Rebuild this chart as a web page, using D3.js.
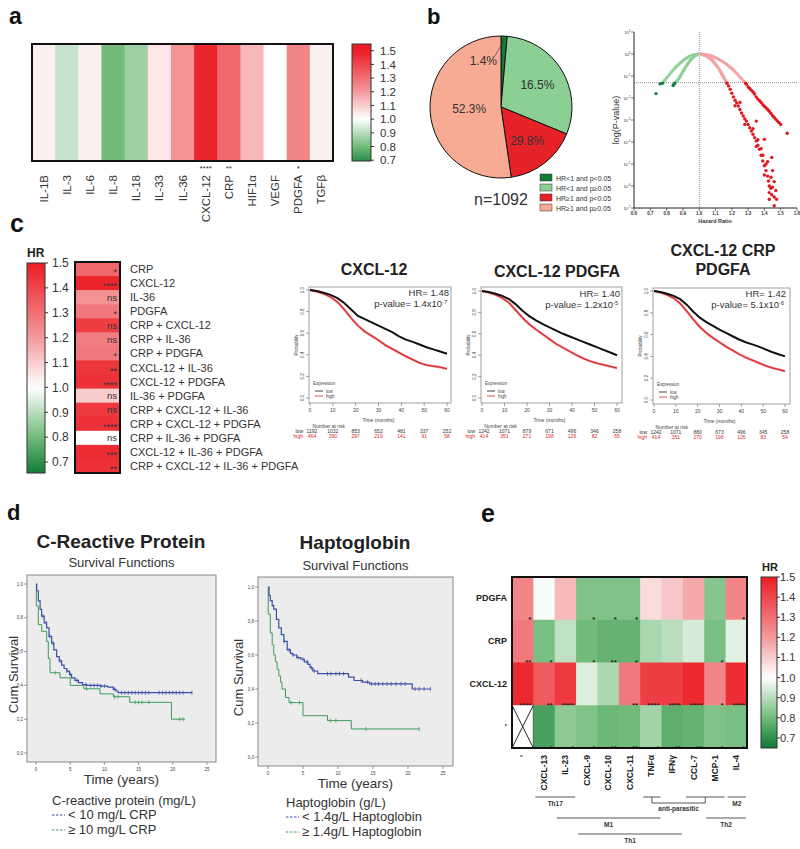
<!DOCTYPE html>
<html><head><meta charset="utf-8">
<script src="https://cdn.jsdelivr.net/npm/d3@7"></script>
<style>body{margin:0;background:#fff}svg{display:block}text{font-family:"Liberation Sans",Arial,Helvetica,sans-serif}</style>
</head><body><svg id="fig" width="800" height="849"></svg>
<script>
// ================= DATA =================
// Panel a
const aMarkers = ["IL-1B","IL-3","IL-6","IL-8","IL-18","IL-33","IL-36","CXCL-12","CRP","HIF1α","VEGF","PDGFA","TGFβ"];
const aHR = [1.03,0.92,1.03,0.80,0.86,1.05,1.22,1.48,1.32,1.14,1.00,1.25,1.03];
const aSig = ["","","","","","","","****","**","","","*",""];
const hrTicks = [1.5,1.4,1.3,1.2,1.1,1.0,0.9,0.8,0.7];

// Panel b – pie
const pieLabels = ["1.4%","16.5%","29.8%","52.3%"];
const pieShares = [1.4,29.8,16.5,52.3];
const pieGroups = ["HR<1 and p<0.05","HR<1 and p≥0.05","HR≥1 and p<0.05","HR≥1 and p≥0.05"];
const pieN = "n=1092";
// Panel b – volcano: [hazard ratio, log10(p)]
const volcGreenNS = [[0.99,-0.005],[0.98,-0.015],[0.97,-0.03],[0.96,-0.05],[0.95,-0.08],[0.94,-0.11],[0.93,-0.15],[0.92,-0.2],[0.91,-0.25],[0.90,-0.31],[0.89,-0.37],[0.88,-0.43],[0.87,-0.5],[0.86,-0.57],[0.85,-0.65],[0.84,-0.73],[0.83,-0.82],[0.82,-0.91],[0.81,-1.0],[0.80,-1.09],[0.79,-1.18],[0.785,-1.24],
 [0.99,-0.01],[0.985,-0.03],[0.98,-0.05],[0.975,-0.075],[0.97,-0.1],[0.965,-0.135],[0.96,-0.17],[0.955,-0.21],[0.95,-0.25],[0.945,-0.295],[0.94,-0.34],[0.935,-0.39],[0.93,-0.44],[0.925,-0.495],[0.92,-0.55],[0.915,-0.61],[0.91,-0.67],[0.905,-0.735],[0.90,-0.8],[0.895,-0.865],[0.89,-0.93],[0.885,-0.995],[0.88,-1.06],[0.875,-1.115],[0.87,-1.17],[0.865,-1.21],[0.86,-1.25]];
const volcGreenSig = [[0.775,-1.33],[0.76,-1.36],[0.85,-1.33],[0.845,-1.38],[0.84,-1.43],[0.735,-1.8]];
const volcRedNS = [[1.01,-0.003],[1.02,-0.008],[1.03,-0.015],[1.04,-0.026],[1.05,-0.04],[1.06,-0.058],[1.07,-0.08],[1.08,-0.105],[1.09,-0.134],[1.10,-0.166],[1.11,-0.2],[1.12,-0.24],[1.13,-0.28],[1.14,-0.325],[1.15,-0.37],[1.16,-0.42],[1.17,-0.48],[1.18,-0.54],[1.19,-0.6],[1.20,-0.66],[1.21,-0.73],[1.22,-0.8],[1.23,-0.88],[1.24,-0.96],[1.25,-1.04],[1.26,-1.12],[1.27,-1.21],[1.275,-1.26],
 [1.01,-0.005],[1.015,-0.012],[1.02,-0.02],[1.025,-0.03],[1.03,-0.04],[1.035,-0.055],[1.04,-0.07],[1.045,-0.09],[1.05,-0.11],[1.055,-0.135],[1.06,-0.16],[1.065,-0.19],[1.07,-0.22],[1.075,-0.255],[1.08,-0.29],[1.085,-0.33],[1.09,-0.37],[1.095,-0.415],[1.10,-0.46],[1.105,-0.51],[1.11,-0.56],[1.115,-0.615],[1.12,-0.67],[1.125,-0.73],[1.13,-0.79],[1.135,-0.855],[1.14,-0.92],[1.145,-0.99],[1.15,-1.06],[1.155,-1.13],[1.16,-1.2],[1.165,-1.26]];
const volcRedSig = [[1.285,-1.33],[1.29,-1.38],[1.30,-1.5],[1.31,-1.57],[1.32,-1.65],[1.33,-1.73],[1.34,-1.82],[1.35,-1.95],[1.36,-2.05],[1.37,-2.12],[1.38,-2.2],[1.39,-2.3],[1.40,-2.38],[1.41,-2.45],[1.42,-2.52],[1.43,-2.6],[1.44,-2.7],[1.45,-2.8],[1.46,-2.88],[1.47,-2.97],[1.48,-3.05],[1.49,-3.12],[1.50,-3.2],[1.54,-3.6],[1.35,-3.05],[1.40,-3.88],[1.445,-4.7],
 [1.17,-1.33],[1.18,-1.45],[1.19,-1.6],[1.20,-1.78],[1.21,-1.95],[1.22,-2.1],[1.23,-2.22],[1.24,-2.36],[1.25,-2.52],[1.26,-2.68],[1.27,-2.82],[1.28,-2.95],[1.29,-3.05],[1.30,-3.2],[1.31,-3.35],[1.32,-3.5],[1.33,-3.65],[1.34,-3.8],[1.35,-3.95],[1.36,-4.15],[1.37,-4.33],[1.38,-4.6],[1.39,-4.86],[1.40,-5.08],[1.41,-5.3],[1.42,-5.55],[1.425,-5.77],[1.43,-6.0],[1.44,-6.1],[1.45,-6.05],[1.43,-6.3],[1.445,-6.4],[1.46,-6.5],[1.475,-6.6],[1.46,-6.9],
 [1.22,-2.35],[1.25,-2.2],[1.28,-3.2],[1.33,-3.4],[1.36,-3.9],[1.38,-4.3],[1.41,-5.0],[1.42,-4.9],[1.44,-5.6],[1.45,-5.3],[1.40,-5.5],[1.47,-6.2],[1.43,-6.6],[1.46,-5.8],[1.35,-4.2],[1.39,-4.6]];
const volcXTicks = [0.6,0.7,0.8,0.9,1.0,1.1,1.2,1.3,1.4,1.5,1.6];
const volcYExp = [1,0,-1,-2,-3,-4,-5,-6,-7];

// Panel c – combination heatmap
const cCombos = ["CRP","CXCL-12","IL-36","PDGFA","CRP + CXCL-12","CRP + IL-36","CRP + PDGFA","CXCL-12 + IL-36","CXCL-12 + PDGFA","IL-36 + PDGFA","CRP + CXCL-12 + IL-36","CRP + CXCL-12 + PDGFA","CRP + IL-36 + PDGFA","CXCL-12 + IL-36 + PDGFA","CRP + CXCL-12 + IL-36 + PDGFA"];
const cHR = [1.32,1.48,1.22,1.28,1.42,1.27,1.28,1.44,1.45,1.10,1.43,1.45,1.00,1.46,1.45];
const cSig = ["*","****","ns","*","ns","ns","*","**","****","ns","ns","****","ns","***","**"];
// Panel c – KM plots
const kmTitles = [["CXCL-12"],["CXCL-12 PDGFA"],["CXCL-12 CRP","PDGFA"]];
const kmHR = ["HR= 1.48","HR= 1.40","HR= 1.42"];
const kmPbase = ["1.4","1.2","5.1"];
const kmPexp = ["-7","-5","-6"];
const kmMonths = [0,3,6,9,12,15,18,21,24,27,30,33,36,39,42,45,48,51,54,57,60];
const km1Low  = [1.00,0.99,0.975,0.955,0.925,0.88,0.82,0.76,0.73,0.70,0.67,0.64,0.61,0.57,0.54,0.52,0.495,0.47,0.45,0.43,0.41];
const km1High = [1.00,0.985,0.965,0.935,0.89,0.82,0.74,0.67,0.615,0.575,0.535,0.49,0.455,0.42,0.385,0.355,0.325,0.305,0.295,0.285,0.27];
const km2Low  = [1.00,0.99,0.975,0.955,0.925,0.875,0.815,0.765,0.725,0.69,0.66,0.63,0.60,0.575,0.55,0.525,0.50,0.475,0.45,0.425,0.40];
const km2High = [1.00,0.985,0.965,0.935,0.89,0.82,0.75,0.69,0.64,0.595,0.55,0.505,0.47,0.435,0.40,0.37,0.345,0.325,0.31,0.295,0.28];
const km3Low  = [1.00,0.99,0.975,0.955,0.925,0.875,0.81,0.755,0.715,0.68,0.645,0.615,0.585,0.555,0.53,0.51,0.49,0.465,0.44,0.42,0.40];
const km3High = [1.00,0.985,0.965,0.935,0.885,0.815,0.74,0.67,0.615,0.57,0.53,0.49,0.455,0.42,0.39,0.365,0.34,0.315,0.295,0.28,0.265];
const riskTimes = [0,10,20,30,40,50,60];
const risk1Low = [1192,1032,853,652,481,337,252], risk1High = [464,390,297,219,141,91,58];
const risk2Low = [1242,1071,879,671,496,346,258], risk2High = [414,351,271,198,126,82,55];
const risk3Low = [1242,1071,880,673,496,345,258], risk3High = [414,351,270,196,126,83,54];

// Panel d – survival (years, cumulative survival)
const crpLow  = [[0,1],[0.1,0.96],[0.34,0.90],[0.6,0.85],[0.83,0.81],[1.2,0.77],[1.56,0.74],[1.9,0.69],[2.29,0.65],[2.6,0.61],[3.02,0.57],[3.4,0.545],[3.75,0.52],[4.1,0.50],[4.5,0.485],[4.9,0.465],[5.2,0.445],[5.7,0.43],[6.2,0.416],[6.8,0.405],[7.4,0.40],[9.4,0.396],[10.5,0.39],[11.3,0.377],[11.7,0.367],[12.0,0.357],[22.8,0.357]];
const crpHigh = [[0,1],[0.05,0.87],[0.34,0.76],[0.83,0.72],[1.56,0.66],[1.8,0.56],[2.05,0.475],[3.5,0.445],[5.0,0.40],[7.0,0.38],[9.35,0.35],[11.3,0.333],[13.7,0.30],[19.8,0.20],[21.8,0.20]];
const crpLowCens  = [1.0,1.5,2.0,2.5,3.5,4.5,5.0,6.0,7.3,8,8.5,9,9.5,10,11.5,12.5,13,13.5,14,14.5,15,15.5,16,16.5,18,18.5,19,19.5,20,20.5,21,21.5,22.8];
const crpHighCens = [2.8,7.4,11.5,12.0,14.5,15,15.5,16.5,21.0,21.5];
const hapLow  = [[0,1],[0.15,0.95],[0.33,0.92],[0.6,0.89],[0.82,0.87],[1.2,0.81],[1.54,0.76],[1.9,0.72],[2.27,0.68],[2.75,0.63],[3.2,0.61],[3.5,0.60],[4.1,0.585],[4.7,0.575],[5.2,0.56],[5.7,0.545],[6.0,0.525],[6.4,0.506],[7.1,0.49],[11.5,0.47],[12.3,0.45],[13.5,0.44],[14.5,0.43],[20.6,0.40],[23.2,0.40]];
const hapHigh = [[0,1],[0.03,0.84],[0.33,0.73],[0.6,0.66],[0.82,0.60],[1.05,0.56],[1.3,0.516],[1.55,0.477],[1.8,0.44],[2.0,0.40],[2.5,0.35],[3.0,0.32],[5.0,0.243],[8.5,0.214],[11.9,0.165],[21.6,0.165]];
const hapLowCens  = [2.3,3.0,3.6,4.3,5.0,5.6,6.2,6.6,8.5,9.0,9.7,10.2,10.8,13.3,14.2,14.8,15.3,15.8,16.4,17,17.6,18.3,19,19.6,21,21.6,22.3,23.2];
const hapHighCens = [3.3,4.5,8.9,9.7,14.0,21.6];
const survYTicks = [0,0.2,0.4,0.6,0.8,1.0];
const survXTicks = [0,5,10,15,20,25];

// Panel e
const eCols = ["'","CXCL-13","IL-23","CXCL-9","CXCL-10","CXCL-11","TNFα","IFNγ","CCL-7","MCP-1","IL-4"];
const eRows = ["PDGFA","CRP","CXCL-12","'"];
const eHR = [
 [1.25,0.99,1.14,0.82,0.82,0.82,1.07,1.11,1.17,0.83,1.25],
 [1.28,0.81,0.91,0.80,0.78,0.78,0.88,0.90,0.94,0.81,0.96],
 [1.47,1.35,1.43,0.95,0.88,1.28,1.42,1.42,1.47,1.25,1.46],
 [null,0.74,0.84,0.82,0.79,0.80,0.87,0.77,0.78,0.82,0.81]];
const eSig = [
 ["*","","","*","*","*","","","","","*"],
 ["**","*","","*","**","*","","","","*",""],
 ["****","**","****","","","**","****","****","****","*","****"],
 ["","*","*","*","**","**","*","**","**","*","*"]];
const eGroups = [
 {name:"Th17",from:1,to:2,level:0},{name:"M2",from:10,to:10,level:0},
 {name:"M1",from:2,to:6,level:1},{name:"Th2",from:9,to:10,level:1},
 {name:"Th1",from:3,to:7,level:2}];
const eAnti = {name:"anti-parasitic",spans:[[6,6],[8,9]]};

// ================= DRAWING =================
const svg = d3.select("#fig");
const defs = svg.append("defs");
const hrColor = d3.scaleLinear().domain([0.65,0.8,1.0,1.2,1.5])
  .range(["#0d7a34","#72bb7b","#ffffff","#f39a9c","#ec1c24"]).clamp(true);

function txt(g,x,y,s,o={}){
  const t=g.append("text").attr("x",x).attr("y",y).text(s)
    .attr("font-size",o.size||10).attr("fill",o.fill||"#222")
    .attr("text-anchor",o.anchor||"start");
  if(o.bold) t.attr("font-weight","bold");
  if(o.rotate) t.attr("transform",`rotate(${o.rotate},${x},${y})`);
  return t;
}
let gid=0;
function colorbar(x,y,w,h,vTop,vBot,o){
  const id="grad"+(gid++);
  const lg=defs.append("linearGradient").attr("id",id).attr("x1",0).attr("y1",0).attr("x2",0).attr("y2",1);
  d3.range(0,41).forEach(i=>{const v=vTop-(vTop-vBot)*i/40;lg.append("stop").attr("offset",i/40).attr("stop-color",hrColor(v));});
  svg.append("rect").attr("x",x).attr("y",y).attr("width",w).attr("height",h)
    .attr("fill",`url(#${id})`).attr("stroke","#333").attr("stroke-width",1);
  const ys=d3.scaleLinear().domain([vBot,vTop]).range([y+h,y]);
  hrTicks.forEach(v=>{
    svg.append("line").attr("x1",x+w).attr("x2",x+w+3).attr("y1",ys(v)).attr("y2",ys(v)).attr("stroke","#333");
    txt(svg,o.labelX,ys(v)+o.size*0.36,v.toFixed(1),{size:o.size,fill:"#333"});
  });
}

// ---------- Panel letters ----------
txt(svg,9,24,"a",{size:23,bold:true,fill:"#111"});
txt(svg,427,24,"b",{size:22,bold:true,fill:"#111"});
txt(svg,10,232,"c",{size:25,bold:true,fill:"#111"});
txt(svg,7,520,"d",{size:22,bold:true,fill:"#111"});
txt(svg,481,522,"e",{size:25,bold:true,fill:"#111"});

// ---------- Panel a ----------
{
  const ax=d3.scaleBand().domain(aMarkers).range([32,333]);
  const bw=ax.bandwidth();
  svg.append("g").selectAll("rect").data(aMarkers).join("rect")
    .attr("x",d=>ax(d)).attr("y",44).attr("width",bw+0.6).attr("height",117)
    .attr("fill",(d,i)=>hrColor(aHR[i]));
  svg.append("rect").attr("x",32).attr("y",44).attr("width",301).attr("height",117)
    .attr("fill","none").attr("stroke","#111").attr("stroke-width",2);
  aMarkers.forEach((m,i)=>{
    const cx=ax(m)+bw/2;
    txt(svg,cx+4,175,m,{size:11.5,anchor:"end",rotate:-90,fill:"#333"});
    if(aSig[i]) txt(svg,cx,171,aSig[i],{size:8,anchor:"middle",fill:"#333"});
  });
  colorbar(352,44,19,117,1.549,0.694,{labelX:380,size:11.5});
}

// ---------- Panel b : pie ----------
{
  const cx=501,cy=107,r=71;
  const pieCols=["#137a3a","#8ccf95","#e62229","#f7ab93"];
  const arcs=d3.pie().sort(null).value(d=>d)(pieShares);
  const arc=d3.arc().innerRadius(0).outerRadius(r);
  const g=svg.append("g").attr("transform",`translate(${cx},${cy})`);
  g.selectAll("path").data(arcs).join("path").attr("d",arc)
    .attr("fill",(d,i)=>pieCols[i]).attr("stroke","#111").attr("stroke-width",1);
  const lr=[0,0.6,0.6,0.45];
  arcs.forEach((a,i)=>{
    if(i===0) return;
    const m=(a.startAngle+a.endAngle)/2;
    txt(g,Math.sin(m)*r*lr[i],-Math.cos(m)*r*lr[i]+4,pieLabels[i],{size:12,anchor:"middle",fill:"#333"});
  });
  const m0=(arcs[0].startAngle+arcs[0].endAngle)/2;
  g.append("line").attr("x1",-6).attr("y1",-51).attr("x2",Math.sin(m0)*(r-4)).attr("y2",-Math.cos(m0)*(r-4)).attr("stroke","#444").attr("stroke-width",0.7);
  txt(g,-4,-42,pieLabels[0],{size:12,anchor:"end",fill:"#333"});
  txt(svg,501,205,pieN,{size:16,anchor:"middle",fill:"#333"});
  pieGroups.forEach((s,i)=>{
    svg.append("rect").attr("x",540).attr("y",174+i*10).attr("width",12).attr("height",7)
      .attr("fill",pieCols[i]).attr("stroke","#333").attr("stroke-width",0.5);
    txt(svg,556,180.5+i*10,s,{size:7,fill:"#333"});
  });
}
// ---------- Panel b : volcano ----------
{
  const xs=d3.scaleLinear().domain([0.6,1.6]).range([634,797]);
  const ys=d3.scaleLog().domain([1e-7,10]).range([208,32]);
  const g=svg.append("g");
  g.append("line").attr("x1",xs(1)).attr("x2",xs(1)).attr("y1",32).attr("y2",208).attr("stroke","#777").attr("stroke-width",0.8).attr("stroke-dasharray","1,1");
  g.append("line").attr("x1",634).attr("x2",797).attr("y1",ys(0.05)).attr("y2",ys(0.05)).attr("stroke","#777").attr("stroke-width",0.8).attr("stroke-dasharray","1,1");
  const dots=(arr,col)=>g.append("g").selectAll("circle").data(arr).join("circle")
    .attr("cx",d=>xs(d[0])).attr("cy",d=>ys(Math.pow(10,d[1]))).attr("r",1.7).attr("fill",col);
  dots(volcGreenNS,"#8fd19a");
  dots(volcRedNS,"#f4a3a3");
  dots(volcGreenSig,"#1b7a3e");
  dots(volcRedSig,"#e0181f");
  g.append("line").attr("x1",634).attr("x2",634).attr("y1",32).attr("y2",208).attr("stroke","#222").attr("stroke-width",1);
  g.append("line").attr("x1",634).attr("x2",797).attr("y1",208).attr("y2",208).attr("stroke","#222").attr("stroke-width",1);
  volcYExp.forEach(e=>{
    const y=ys(Math.pow(10,e));
    g.append("line").attr("x1",631).attr("x2",634).attr("y1",y).attr("y2",y).attr("stroke","#222").attr("stroke-width",0.6);
    const t=txt(g,630.5,y+1.5,"10",{size:4,anchor:"end",fill:"#333"});
    t.append("tspan").attr("dy",-2).attr("font-size",3).text(e);
  });
  volcXTicks.forEach(v=>{
    g.append("line").attr("x1",xs(v)).attr("x2",xs(v)).attr("y1",208).attr("y2",211).attr("stroke","#222").attr("stroke-width",0.6);
    txt(g,xs(v),215,v.toFixed(1),{size:4.5,anchor:"middle",bold:true,fill:"#333"});
  });
  txt(g,715,223,"Hazard Ratio",{size:5.5,anchor:"middle",bold:true,fill:"#333"});
  txt(g,619,120,"log(P-value)",{size:9,anchor:"middle",rotate:-90,fill:"#333"});
}

// ---------- Panel c : heatmap ----------
{
  const ys=d3.scaleBand().domain(cCombos).range([262,473]);
  const bh=ys.bandwidth();
  svg.append("g").selectAll("rect").data(cCombos).join("rect")
    .attr("x",75).attr("y",d=>ys(d)).attr("width",45).attr("height",bh+0.6)
    .attr("fill",(d,i)=>hrColor(cHR[i]));
  svg.append("rect").attr("x",75).attr("y",262).attr("width",45).attr("height",211)
    .attr("fill","none").attr("stroke","#111").attr("stroke-width",2);
  cCombos.forEach((c,i)=>{
    const cy=ys(c)+bh/2;
    txt(svg,130,cy+4,c,{size:11,fill:"#333"});
    const s=cSig[i];
    txt(svg,117,s==="ns"?cy+3.5:cy+6,s,{size:s==="ns"?9.5:9,anchor:"end",fill:"#333"});
  });
  txt(svg,27,257,"HR",{size:12,bold:true,fill:"#222"});
  colorbar(27,263,18,210,1.5,0.656,{labelX:52,size:12});
}

// ---------- Panel c : KM plots ----------
const kmCfg=[
 {x0:309,x1:451,y0:287,y1:403,tx0:310,tx1:447,ty0:398,ty1:290,titleX:374,titleY:[275],hrX:449,hrY:296,low:km1Low,high:km1High,rl:risk1Low,rh:risk1High},
 {x0:481,x1:622,y0:287,y1:403,tx0:482,tx1:617,ty0:398,ty1:291,titleX:557,titleY:[277],hrX:620,hrY:297,low:km2Low,high:km2High,rl:risk2Low,rh:risk2High},
 {x0:653,x1:790,y0:288,y1:404,tx0:654,tx1:785,ty0:400,ty1:291,titleX:723,titleY:[256,275],hrX:786,hrY:297,low:km3Low,high:km3High,rl:risk3Low,rh:risk3High}];
kmCfg.forEach((c,k)=>{
  const g=svg.append("g");
  g.append("rect").attr("x",c.x0).attr("y",c.y0).attr("width",c.x1-c.x0).attr("height",c.y1-c.y0)
    .attr("fill","#fff").attr("stroke","#888").attr("stroke-width",0.8);
  const xs=d3.scaleLinear().domain([0,60]).range([c.tx0,c.tx1]);
  const ys=d3.scaleLinear().domain([0,1]).range([c.ty0,c.ty1]);
  d3.range(0,61,10).forEach(t=>{
    g.append("line").attr("x1",xs(t)).attr("x2",xs(t)).attr("y1",c.y1).attr("y2",c.y1+3).attr("stroke","#666").attr("stroke-width",0.6);
    txt(g,xs(t),c.y1+9,t,{size:5,anchor:"middle",fill:"#444"});
  });
  [0,0.2,0.4,0.6,0.8,1.0].forEach(v=>{
    g.append("line").attr("x1",c.x0-3).attr("x2",c.x0).attr("y1",ys(v)).attr("y2",ys(v)).attr("stroke","#666").attr("stroke-width",0.6);
    txt(g,c.x0-5,ys(v),v.toFixed(1),{size:4.5,anchor:"middle",rotate:-90,fill:"#444"});
  });
  txt(g,c.x0-11,(c.y0+c.y1)/2,"Probability",{size:4.5,anchor:"middle",rotate:-90,fill:"#444"});
  const line=d3.line().x((d,i)=>xs(kmMonths[i])).y(d=>ys(d));
  g.append("path").attr("d",line(c.high)).attr("fill","none").attr("stroke","#f2a5a7").attr("stroke-width",2.6);
  g.append("path").attr("d",line(c.high)).attr("fill","none").attr("stroke","#d8272d").attr("stroke-width",1.3);
  g.append("path").attr("d",line(c.low)).attr("fill","none").attr("stroke","#111").attr("stroke-width",2);
  kmTitles[k].forEach((s,j)=>txt(svg,c.titleX,c.titleY[j],s,{size:16,bold:true,anchor:"middle",fill:"#222"}));
  txt(g,c.hrX,c.hrY,kmHR[k],{size:9.5,anchor:"end",fill:"#333"});
  const pt=txt(g,c.hrX-2,c.hrY+11,"p-value= "+kmPbase[k]+"x10",{size:9.5,anchor:"end",fill:"#333"});
  pt.append("tspan").attr("dy",-3).attr("font-size",5.5).text(kmPexp[k]);
  txt(g,c.x0+4,c.y1-18,"Expression",{size:4.5,fill:"#444"});
  g.append("line").attr("x1",c.x0+6).attr("x2",c.x0+14).attr("y1",c.y1-12).attr("y2",c.y1-12).attr("stroke","#111").attr("stroke-width",0.8);
  txt(g,c.x0+17,c.y1-10.5,"low",{size:4.5,fill:"#444"});
  g.append("line").attr("x1",c.x0+6).attr("x2",c.x0+14).attr("y1",c.y1-7).attr("y2",c.y1-7).attr("stroke","#d8272d").attr("stroke-width",0.8);
  txt(g,c.x0+17,c.y1-5.5,"high",{size:4.5,fill:"#444"});
  txt(g,xs(30),c.y1+19,"Time (months)",{size:5,anchor:"middle",fill:"#444"});
  txt(g,xs(10)-4,c.y1+25,"Number at risk",{size:5,anchor:"middle",fill:"#444"});
  txt(g,xs(0)-7,c.y1+30,"low",{size:5,anchor:"end",fill:"#333"});
  txt(g,xs(0)-7,c.y1+35,"high",{size:5,anchor:"end",fill:"#d8272d"});
  riskTimes.forEach((t,i)=>{
    txt(g,xs(t)+(i===0?2:0),c.y1+30,c.rl[i],{size:5,anchor:"middle",fill:"#333"});
    txt(g,xs(t)+(i===0?2:0),c.y1+35,c.rh[i],{size:5,anchor:"middle",fill:"#d8272d"});
  });
});

// ---------- Panel d ----------
function stepAt(curve,t){let s=curve[0][1];curve.forEach(p=>{if(p[0]<=t)s=p[1];});return s;}
const survCfg=[
 {title:"C-Reactive Protein",titleX:121,titleY:548,subY:567,bx0:27,bx1:216,by0:575,by1:762,tx0:36,tx1:207,ty0:753,ty1:584,
  low:crpLow,high:crpHigh,lc:crpLowCens,hc:crpHighCens,legTitle:"C-reactive protein (mg/L)",leg:["< 10 mg/L CRP","≥ 10 mg/L CRP"],legX:52,legY:805,cumX:18},
 {title:"Haptoglobin",titleX:355,titleY:549,subY:570,bx0:258,bx1:453,by0:577,by1:766,tx0:268,tx1:443,ty0:757,ty1:587,
  low:hapLow,high:hapHigh,lc:hapLowCens,hc:hapHighCens,legTitle:"Haptoglobin (g/L)",leg:["< 1.4g/L Haptoglobin","≥ 1.4g/L Haptoglobin"],legX:286,legY:807,cumX:243}];
survCfg.forEach(c=>{
  const g=svg.append("g");
  txt(g,c.titleX,c.titleY,c.title,{size:19,bold:true,anchor:"middle",fill:"#222"});
  txt(g,(c.bx0+c.bx1)/2,c.subY,"Survival Functions",{size:13,anchor:"middle",fill:"#333"});
  g.append("rect").attr("x",c.bx0).attr("y",c.by0).attr("width",c.bx1-c.bx0).attr("height",c.by1-c.by0)
    .attr("fill","#ececec").attr("stroke","#888").attr("stroke-width",1);
  const xs=d3.scaleLinear().domain([0,25]).range([c.tx0,c.tx1]);
  const ys=d3.scaleLinear().domain([0,1]).range([c.ty0,c.ty1]);
  survYTicks.forEach(v=>{
    g.append("line").attr("x1",c.bx0-3).attr("x2",c.bx0).attr("y1",ys(v)).attr("y2",ys(v)).attr("stroke","#555").attr("stroke-width",0.6);
    txt(g,c.bx0-4,ys(v)+1.5,v.toFixed(1).replace(".",","),{size:4.5,anchor:"end",fill:"#444"});
  });
  survXTicks.forEach(v=>{
    g.append("line").attr("x1",xs(v)).attr("x2",xs(v)).attr("y1",c.by1).attr("y2",c.by1+3).attr("stroke","#555").attr("stroke-width",0.6);
    txt(g,xs(v),c.by1+9,v,{size:4.5,anchor:"middle",fill:"#444"});
  });
  const line=d3.line().x(d=>xs(d[0])).y(d=>ys(d[1])).curve(d3.curveStepAfter);
  const blue="#3c4fa6",green="#3f9a5a";
  g.append("path").attr("d",line(c.high)).attr("fill","none").attr("stroke",green).attr("stroke-width",1);
  g.append("path").attr("d",line(c.low)).attr("fill","none").attr("stroke",blue).attr("stroke-width",1.2);
  const cens=(arr,curve,col)=>arr.forEach(t=>{
    const y=ys(stepAt(curve,t)),x=xs(t);
    g.append("line").attr("x1",x).attr("x2",x).attr("y1",y-2).attr("y2",y+2).attr("stroke",col).attr("stroke-width",0.8);
  });
  cens(c.lc,c.low,blue); cens(c.hc,c.high,green);
  txt(g,(c.bx0+c.bx1)/2,c.by1+22,"Time (years)",{size:13.5,anchor:"middle",fill:"#333"});
  txt(g,c.cumX,(c.by0+c.by1)/2+6,"Cum Survival",{size:13,anchor:"middle",rotate:-90,fill:"#333"});
  txt(g,c.legX,c.legY,c.legTitle,{size:13,fill:"#333"});
  [blue,green].forEach((col,i)=>{
    const y=c.legY+14+i*15;
    g.append("line").attr("x1",c.legX).attr("x2",c.legX+13).attr("y1",y-4).attr("y2",y-4).attr("stroke",col).attr("stroke-width",1.2).attr("stroke-dasharray","2.5,1.5");
    txt(g,c.legX+16,y,c.leg[i],{size:13,fill:"#333"});
  });
});

// ---------- Panel e ----------
{
  const ex=d3.scaleBand().domain(eCols).range([512,747]);
  const ey=d3.scaleBand().domain(eRows).range([577,748]);
  const bw=ex.bandwidth(),bh=ey.bandwidth();
  const g=svg.append("g");
  eRows.forEach((r,ri)=>eCols.forEach((c,ci)=>{
    const v=eHR[ri][ci];
    g.append("rect").attr("x",ex(c)).attr("y",ey(r)).attr("width",bw+0.6).attr("height",bh+0.6)
      .attr("fill",v==null?"#fff":hrColor(v));
    if(v==null){
      g.append("line").attr("x1",ex(c)).attr("y1",ey(r)).attr("x2",ex(c)+bw).attr("y2",ey(r)+bh).attr("stroke","#222").attr("stroke-width",1);
      g.append("line").attr("x1",ex(c)+bw).attr("y1",ey(r)).attr("x2",ex(c)).attr("y2",ey(r)+bh).attr("stroke","#222").attr("stroke-width",1);
      g.append("line").attr("x1",ex(c)+bw).attr("y1",ey(r)).attr("x2",ex(c)+bw).attr("y2",ey(r)+bh).attr("stroke","#222").attr("stroke-width",1);
    }
    if(eSig[ri][ci]) txt(g,ex(c)+bw-2,ey(r)+bh+2.5,eSig[ri][ci],{size:8,anchor:"end",bold:true,fill:"#222"});
  }));
  g.append("rect").attr("x",512).attr("y",577).attr("width",235).attr("height",171)
    .attr("fill","none").attr("stroke","#111").attr("stroke-width",2);
  eRows.forEach(r=>txt(g,507,ey(r)+bh/2+3,r,{size:9,bold:true,anchor:"end",fill:"#222"}));
  eCols.forEach(c=>txt(g,ex(c)+bw/2+3,755,c,{size:8.5,bold:true,anchor:"end",rotate:-90,fill:"#222"}));
  const lvY=[797,818,834];
  const xl=i=>ex(eCols[i]), xr=i=>ex(eCols[i])+bw;
  eGroups.forEach(gr=>{
    const a=xl(gr.from)+2,b=xr(gr.to)-1,y=lvY[gr.level];
    g.append("line").attr("x1",a).attr("x2",b).attr("y1",y).attr("y2",y).attr("stroke","#444").attr("stroke-width",0.9);
    txt(g,(a+b)/2,y+8.5,gr.name,{size:6.5,bold:true,anchor:"middle",fill:"#333"});
  });
  const mids=eAnti.spans.map(s=>{
    const a=xl(s[0])+3,b=xr(s[1])-1;
    g.append("line").attr("x1",a).attr("x2",b).attr("y1",797).attr("y2",797).attr("stroke","#444").attr("stroke-width",0.9);
    return (a+b)/2;
  });
  g.append("path").attr("d",`M${mids[0]},797V803H${mids[1]}V797`).attr("fill","none").attr("stroke","#444").attr("stroke-width",0.9);
  txt(g,(mids[0]+mids[1])/2,811,eAnti.name,{size:6.5,bold:true,anchor:"middle",fill:"#333"});
  txt(svg,770,571,"HR",{size:11,bold:true,anchor:"middle",fill:"#222"});
  colorbar(761,577,16,171,1.5,0.65,{labelX:780,size:11});
}
</script></body></html>
